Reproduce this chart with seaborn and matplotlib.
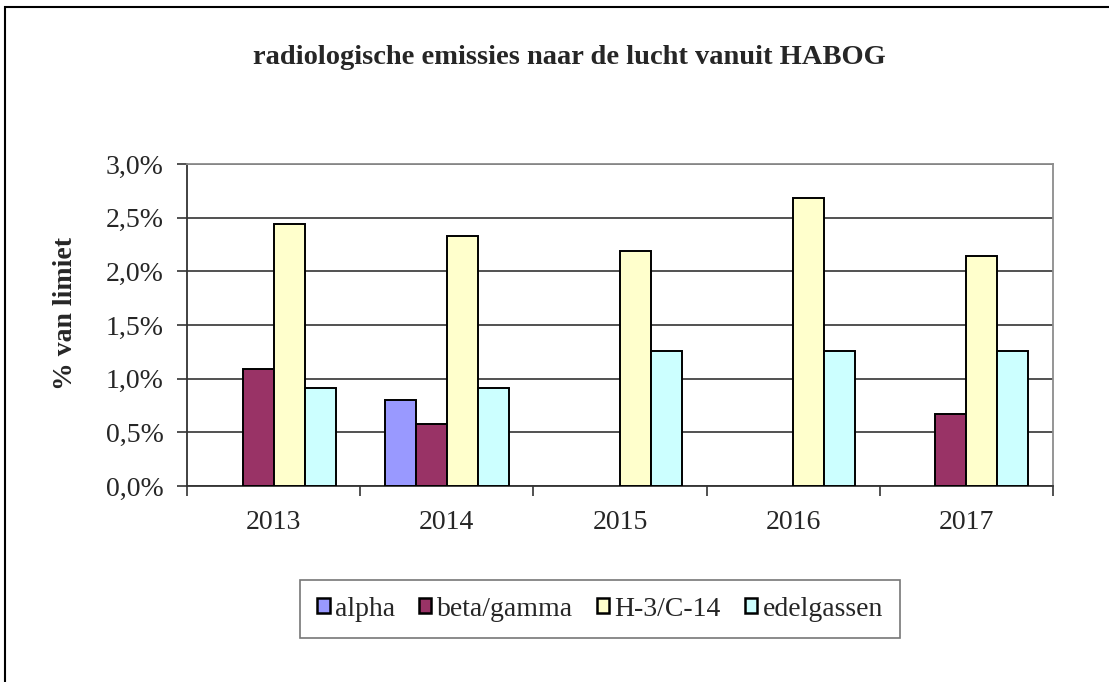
import matplotlib
matplotlib.use("Agg")
import matplotlib.pyplot as plt
import matplotlib.patches as mpatches
import seaborn as sns
import pandas as pd
import numpy as np

years = ["2013", "2014", "2015", "2016", "2017"]
series = ["alpha", "beta/gamma", "H-3/C-14", "edelgassen"]
alpha = [0.0, 0.80, 0.0, 0.0, 0.0]
beta_gamma = [1.09, 0.58, 0.0, 0.0, 0.67]
h3_c14 = [2.44, 2.33, 2.19, 2.68, 2.14]
edelgassen = [0.91, 0.91, 1.26, 1.26, 1.26]
colors = ["#9999FF", "#993366", "#FFFFCC", "#CCFFFF"]
yticks = [0.0, 0.5, 1.0, 1.5, 2.0, 2.5, 3.0]

rows = []
for s, vals in zip(series, [alpha, beta_gamma, h3_c14, edelgassen]):
    for y, v in zip(years, vals):
        rows.append({"jaar": y, "reeks": s, "waarde": v})
df = pd.DataFrame(rows)
df_plot = df[df["waarde"] > 0]

sns.set_theme(style="white")
plt.rcParams["font.family"] = ["Liberation Serif", "DejaVu Serif"]

fig = plt.figure(figsize=(11.09, 6.82), dpi=100)
ax = fig.add_axes([187/1109, 1-486/682, (1053-187)/1109, (486-164)/682])

sns.barplot(data=df_plot, x="jaar", y="waarde", hue="reeks", order=years,
            hue_order=series, palette=colors, width=0.717, saturation=1,
            edgecolor="black", linewidth=1.4, ax=ax, legend=False, zorder=3)

ax.set_ylim(0, 3.0)
ax.set_xlim(-0.5, 4.5)
ax.set_yticks(yticks)
ax.set_yticklabels([f"{t:.1f}%".replace(".", ",") for t in yticks], fontsize=20)
ax.yaxis.grid(True, color="#333333", linewidth=1.2, zorder=0)
ax.set_axisbelow(True)
ax.set_xlabel("")
ax.set_ylabel("")

ax.set_xticks(range(len(years)))
ax.set_xticklabels(years, fontsize=20)
ax.set_xticks(np.arange(-0.5, 5.0, 1.0), minor=True)
ax.tick_params(axis="x", which="major", length=0, pad=17)
ax.tick_params(axis="x", which="minor", length=7, width=1.2, color="#333333", direction="out", bottom=True)
ax.tick_params(axis="y", which="major", length=7, width=1.2, color="#333333", direction="out", left=True, pad=10)

for side in ["left", "bottom"]:
    ax.spines[side].set_color("#333333")
    ax.spines[side].set_linewidth(1.3)
for side in ["top", "right"]:
    ax.spines[side].set_color("#8c8c8c")
    ax.spines[side].set_linewidth(1.3)

fig.text(569/1109, 1-57/682, "radiologische emissies naar de lucht vanuit HABOG",
         ha="center", va="center", fontsize=20.5, fontweight="bold")
fig.text(65/1109, 1-313/682, "% van limiet", rotation=90, ha="center", va="center",
         fontsize=20, fontweight="bold")

handles = [mpatches.Patch(facecolor=c, edgecolor="black", linewidth=1.8, label=s)
           for c, s in zip(colors, series)]
leg = fig.legend(handles=handles, loc="center", bbox_to_anchor=(600/1109, 1-609/682),
                 ncol=4, fontsize=20, frameon=True, fancybox=False, handlelength=0.45,
                 handleheight=0.45, handletextpad=0.2, columnspacing=0.85,
                 borderpad=0.6, borderaxespad=0)
leg.get_frame().set_edgecolor("#555555")
leg.get_frame().set_linewidth(1.2)

border = mpatches.Rectangle((5/1109, -0.05), 1.2, 1-7/682+0.05, transform=fig.transFigure,
                            fill=False, edgecolor="black", linewidth=1.5)
fig.patches.append(border)

fig.savefig("out.png", dpi=100)
